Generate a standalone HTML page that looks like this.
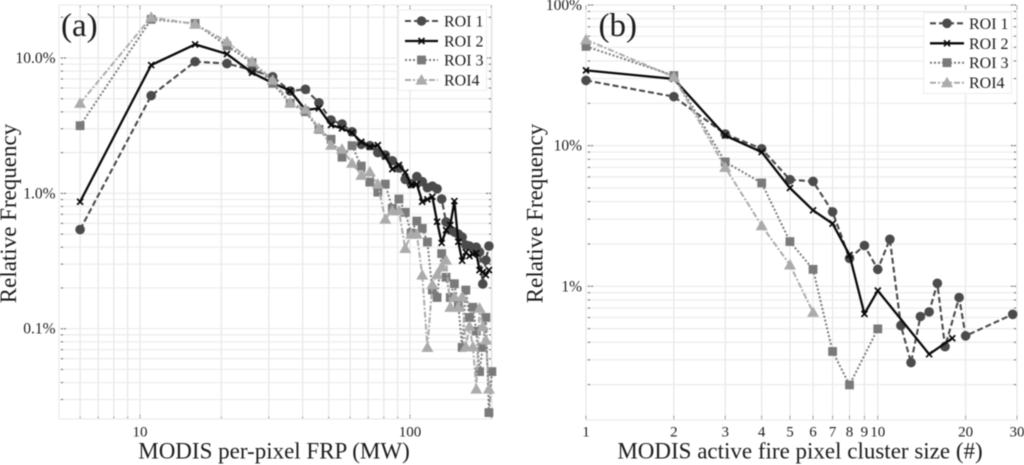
<!DOCTYPE html>
<html lang="en">
<head>
<meta charset="utf-8">
<title>MODIS FRP and cluster size relative frequency</title>
<style>
html,body{margin:0;padding:0;background:#fff;width:1024px;height:465px;overflow:hidden}
svg{display:block;filter:blur(0.5px)}
text{font-family:"Liberation Serif",serif;fill:#1c1c1c}
</style>
</head>
<body>
<svg id="chart" xmlns="http://www.w3.org/2000/svg" width="1024" height="465" viewBox="0 0 1024 465">
  <g id="panel-a"></g>
  <g id="panel-b"></g>
</svg>
<script>
// Panel (a): MODIS per-pixel FRP
const frpBins = [6,11,16,21,26,31,36,41,46,51,56,61,66,71,76,81,86,91,96,101,106,111,116,121,126,131,136,141,146,151,156,161,166,171,176,181,186,191,196,201];
const frpRoi1 = [0.54,5.27,9.4,9.1,8.15,7.27,5.7,5.87,4.67,3.48,3.25,2.85,2.3,2.25,2.0,1.92,1.74,1.54,1.27,1.18,1.33,1.22,1.1,1.13,1.08,0.908,0.614,0.535,0.518,0.50,0.475,0.415,0.408,0.394,0.40,0.368,0.214,0.321,0.408];
const frpRoi2 = [0.867,8.87,12.6,10.7,7.79,6.53,5.73,4.13,4.25,3.2,3.02,2.8,2.4,2.21,2.27,1.87,1.51,1.62,1.43,1.15,1.17,0.867,0.903,0.944,0.617,0.43,0.535,0.583,0.877,0.439,0.318,0.368,0.344,0.355,0.362,0.271,0.262,0.249,0.271];
const frpRoi3 = [3.16,19.3,18.0,12.3,9.23,6.5,4.63,4.01,2.97,2.51,1.85,2.25,1.59,1.21,1.02,1.17,0.775,0.908,0.724,0.509,0.624,0.551,0.437,0.193,0.17,0.359,0.24,0.17,0.215,0.149,0.0728,0.193,0.121,0.144,0.096,0.0482,0.0728,0.121,0.024,0.0482];
const frpRoi4 = [4.63,20,17.8,13.2,9.4,6.87,4.67,4.18,3.02,2.27,2.12,1.67,1.36,1.44,1.17,0.645,0.743,0.743,0.392,0.5,0.5,0.249,0.0728,0.212,0.252,0.286,0.321,0.144,0.172,0.144,0.172,0.0735,0.104,0.0735,0.0358,0.142,0.104,0.0824,0.0358];
const frpXGrid = [6,7,8,9,10,20,30,40,50,60,70,80,90,100,200];
const frpXLabels = [10,100];
const frpYGrid = [0.03,0.04,0.05,0.06,0.07,0.08,0.09,0.1,0.2,0.3,0.4,0.5,0.6,0.7,0.8,0.9,1,2,3,4,5,6,7,8,9,10,20];
const frpYLabels = [10,1,0.1];
const frpYText = ["10.0%","1.0%","0.1%"];

// Panel (b): MODIS active fire pixel cluster size
const sizeRoi1X = [1,2,3,4,5,6,7,8,9,10,11,12,13,14,15,16,17,19,20,29];
const sizeRoi1 = [29.1,22.3,12.1,9.5,5.73,5.57,3.38,1.58,1.95,1.32,2.16,0.526,0.287,0.61,0.658,1.05,0.372,0.832,0.444,0.632];
const sizeRoi2X = [1,2,3,4,5,6,7,8,9,10,15,18];
const sizeRoi2 = [34.3,29.8,11.8,9.0,5.0,3.47,2.79,1.67,0.637,0.932,0.329,0.427];
const sizeRoi3X = [1,2,3,4,5,6,7,8,10];
const sizeRoi3 = [50.8,31.5,7.66,5.43,2.08,1.32,0.344,0.199,0.498];
const sizeRoi4X = [1,2,3,4,5,6];
const sizeRoi4 = [56.7,30.8,7.0,2.7,1.42,0.653];
const sizeXGrid = [1,2,3,4,5,6,7,8,9,10,20,30];
const sizeXLabels = [1,2,3,4,5,6,7,8,9,10,20,30];
const sizeYGrid = [0.2,0.3,0.4,0.5,0.6,0.7,0.8,0.9,1,2,3,4,5,6,7,8,9,10,20,30,40,50,60,70,80,90,100];
const sizeYLabels = [100,10,1];
const sizeYText = ["100%","10%","1%"];

const legendNames = ["ROI 1","ROI 2","ROI 3","ROI4"];

const NS = "http://www.w3.org/2000/svg";
const STYLES = [
  {stroke:"#4b4b4b", width:2.1, dash:"6 3",     fill:"#4b4b4b", mark:"circle"},
  {stroke:"#0a0a0a", width:2.3, dash:"",        fill:"#0a0a0a", mark:"cross"},
  {stroke:"#7a7a7a", width:2,   dash:"2 2",     fill:"#7a7a7a", mark:"square"},
  {stroke:"#ababab", width:2,   dash:"6 2 2 2", fill:"#ababab", mark:"triangle"}
];

function make(tag, parent, attrs) {
  const el = document.createElementNS(NS, tag);
  for (const k in attrs) el.setAttribute(k, attrs[k]);
  parent.appendChild(el);
  return el;
}

function logScale(d0, d1, r0, r1) {
  const a = Math.log10(d0), b = Math.log10(d1);
  return v => r0 + (Math.log10(v) - a) / (b - a) * (r1 - r0);
}

function drawMarker(parent, kind, x, y, st) {
  let el;
  if (kind === "circle") {
    el = make("circle", parent, {cx:x, cy:y, r:4.8, fill:st.fill});
  } else if (kind === "square") {
    el = make("rect", parent, {x:x-4.4, y:y-4.4, width:8.8, height:8.8, fill:st.fill});
  } else if (kind === "triangle") {
    el = make("polygon", parent, {points:(x-6)+","+(y+4.6)+" "+(x+6)+","+(y+4.6)+" "+x+","+(y-6), fill:st.fill});
  } else {
    el = make("path", parent, {d:"M"+(x-3)+" "+(y-3)+"L"+(x+3)+" "+(y+3)+"M"+(x+3)+" "+(y-3)+"L"+(x-3)+" "+(y+3), stroke:st.stroke, "stroke-width":1.7, fill:"none"});
  }
  
  
}

function drawSeries(parent, xs, ys, sx, sy, st, name) {
  const g = make("g", parent, {});
  
  
  const pts = ys.map((v, i) => sx(xs[i]).toFixed(2) + "," + sy(v).toFixed(2));
  const line = make("polyline", g, {points:pts.join(" "), fill:"none", stroke:st.stroke, "stroke-width":st.width, "stroke-linejoin":"round"});
  if (st.dash) line.setAttribute("stroke-dasharray", st.dash);
  
  
  ys.forEach((v, i) => drawMarker(g, st.mark, sx(xs[i]), sy(v), st));
}

function drawGrid(parent, box, sx, sy, xGrid, yGrid, yMajor, xMajor) {
  const g = make("g", parent, {});
  
  
  make("rect", g, {x:box.l, y:box.t, width:box.r-box.l, height:box.b-box.t, fill:"none", stroke:"#e8e8e8", "stroke-width":1});
  xGrid.forEach(v => {
    const x = sx(v);
    make("line", g, {x1:x, x2:x, y1:box.t, y2:box.b, stroke:"#e2e2e2", "stroke-width":1});
    const h = xMajor.includes(v) ? 4 : 2;
    make("line", g, {x1:x, x2:x, y1:box.t+1, y2:box.t+1+h, stroke:"#666", "stroke-width":1, "stroke-dasharray":"1 1"});
    make("line", g, {x1:x, x2:x, y1:box.b-1, y2:box.b-1-h, stroke:"#666", "stroke-width":1, "stroke-dasharray":"1 1"});
  });
  yGrid.forEach(v => {
    const y = sy(v);
    make("line", g, {x1:box.l, x2:box.r, y1:y, y2:y, stroke:"#ebebeb", "stroke-width":1.2});
    const w = yMajor.includes(v) ? 5 : 2;
    make("line", g, {x1:box.l+2, x2:box.l+2+w, y1:y, y2:y, stroke:"#666", "stroke-width":1, "stroke-dasharray":"2 1"});
    make("line", g, {x1:box.r-1, x2:box.r-1-w, y1:y, y2:y, stroke:"#666", "stroke-width":1, "stroke-dasharray":"2 1"});
  });
}

function drawLegend(parent, x0, y0, w, h, rowY, lineX0, lineX1, textX) {
  const g = make("g", parent, {});
  
  
  make("rect", g, {x:x0, y:y0, width:w, height:h, fill:"#fff", stroke:"#ececec", "stroke-width":1});
  legendNames.forEach((name, i) => {
    const st = STYLES[i];
    const entry = make("g", g, {});
    
    
    const y = rowY[i];
    const ln = make("line", entry, {x1:lineX0, x2:lineX1, y1:y, y2:y, stroke:st.stroke, "stroke-width":st.width});
    if (st.dash) ln.setAttribute("stroke-dasharray", st.dash);
    drawMarker(entry, st.mark, (lineX0+lineX1)/2, y, st);
    const t = make("text", entry, {x:textX, y:y+5.5, "font-size":16});
    t.textContent = name;
  });
}

function label(parent, x, y, size, anchor, str, nm, rotate) {
  const t = make("text", parent, {x:x, y:y, "font-size":size, "text-anchor":anchor});
  if (rotate) t.setAttribute("transform", "rotate(-90 "+x+" "+y+")");
  t.textContent = str;
  
  
}

// Panel (a)
(function () {
  const p = document.getElementById("panel-a");
  const box = {l:59, r:492, t:5, b:419};
  const sx = logScale(10, 100, 140, 410);
  const sy = logScale(10, 0.1, 58, 328.7);
  drawGrid(p, box, sx, sy, frpXGrid, frpYGrid, frpYLabels, frpXLabels);
  drawSeries(p, frpBins, frpRoi1, sx, sy, STYLES[0], "series-roi-1");
  drawSeries(p, frpBins, frpRoi2, sx, sy, STYLES[1], "series-roi-2");
  drawSeries(p, frpBins, frpRoi3, sx, sy, STYLES[2], "series-roi-3");
  drawSeries(p, frpBins, frpRoi4, sx, sy, STYLES[3], "series-roi-4");
  drawLegend(p, 398.5, 10, 88, 80.5, [21,41,60,80], 405, 438, 444);
  frpYLabels.forEach((v, i) => label(p, 55.5, sy(v)+5, 15.5, "end", frpYText[i], "y-tick-label"));
  frpXLabels.forEach(v => label(p, sx(v), 436.5, 15, "middle", String(v), "x-tick-label"));
  label(p, 274, 458.5, 23, "middle", "MODIS per-pixel FRP (MW)", "x-axis-title");
  label(p, 16, 213.5, 23, "middle", "Relative Frequency", "y-axis-title", true);
  label(p, 61, 36, 33, "start", "(a)", "panel-label-a");
})();

// Panel (b)
(function () {
  const p = document.getElementById("panel-b");
  const box = {l:586, r:1017, t:5, b:420};
  const sx = logScale(1, 30, 586, 1017);
  const sy = logScale(100, 1, 5, 286.3);
  drawGrid(p, box, sx, sy, sizeXGrid, sizeYGrid, sizeYLabels, sizeXLabels);
  drawSeries(p, sizeRoi1X, sizeRoi1, sx, sy, STYLES[0], "series-roi-1");
  drawSeries(p, sizeRoi2X, sizeRoi2, sx, sy, STYLES[1], "series-roi-2");
  drawSeries(p, sizeRoi3X, sizeRoi3, sx, sy, STYLES[2], "series-roi-3");
  drawSeries(p, sizeRoi4X, sizeRoi4, sx, sy, STYLES[3], "series-roi-4");
  drawLegend(p, 923.5, 12.5, 88, 81, [23.3,43.3,62.7,82.7], 930, 964, 969);
  sizeYLabels.forEach((v, i) => label(p, 582, sy(v)+5, 15.5, "end", sizeYText[i], "y-tick-label"));
  sizeXLabels.forEach(v => label(p, sx(v), 436.5, 15, "middle", String(v), "x-tick-label"));
  label(p, 800, 458.5, 23, "middle", "MODIS active fire pixel cluster size (#)", "x-axis-title");
  label(p, 542.5, 213.5, 23, "middle", "Relative Frequency", "y-axis-title", true);
  label(p, 598.5, 36, 33, "start", "(b)", "panel-label-b");
})();
</script>
</body>
</html>
